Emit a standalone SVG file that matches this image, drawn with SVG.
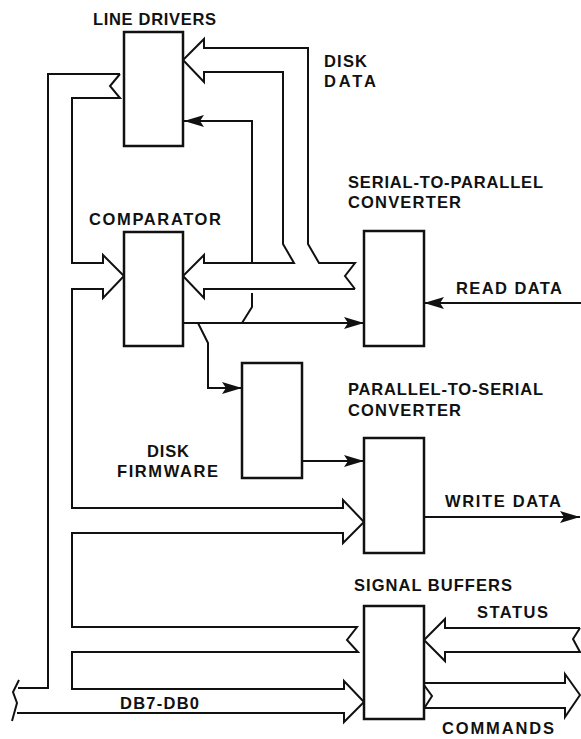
<svg xmlns="http://www.w3.org/2000/svg" width="581" height="739" viewBox="0 0 581 739">
  <style>
    .box { fill: #ffffff; stroke: #111111; stroke-width: 2.5; }
    .bus { fill: none; stroke: #111111; stroke-width: 2; stroke-linejoin: miter; }
    .ln { fill: none; stroke: #111111; stroke-width: 2; }
    .lbl { font-family: "Liberation Sans", Arial, Helvetica, sans-serif; font-weight: bold; font-size: 16.5px; fill: #111111; }
  </style>
  <defs>
    <marker id="ah" markerUnits="userSpaceOnUse" markerWidth="20" markerHeight="12" refX="20" refY="6" orient="auto">
      <path d="M0,0 L20,6 L0,12 L4,6 Z" fill="#111111"/>
    </marker>
  </defs>
  <rect width="581" height="739" fill="#ffffff"/>

  <g id="connectors">
    <!-- main DB7-DB0 bus -->
    <path class="bus" d="M120,74 L48,74 L48,688 L18,688"/>
    <path class="bus" d="M17,713 L344,713 L344,722 L364,702 L344,681 L344,689 L72,689 L72,652 L358,652 L347,640 L357,627 L72,627 L72,533 L343,533 L343,543 L364,522 L343,500 L343,508 L72,508 L72,289 L103,289 L103,298 L124,276 L103,255 L103,263 L72,263 L72,98 L120,98 L110,86 L120,74"/>
    <path class="ln" d="M19,680 L13,692 L17,703 L12,721"/>
    <!-- disk data bus from serial-to-parallel converter -->
    <path class="bus" d="M355,289 L204,289 L204,298 L183,276 L204,255 L204,263 L294,263 L283,244 L283,72 L204,72 L204,82 L183,60 L204,39 L204,48 L308,48 L308,244 L319,263 L355,263 L345,276 L355,289"/>
    <!-- comparator output -->
    <path class="ln" d="M183,323 L364,323" marker-end="url(#ah)"/>
    <path class="ln" d="M198,323 L208,343 L208,388 L242,388" marker-end="url(#ah)"/>
    <!-- feedback to line drivers -->
    <path class="ln" d="M242,323 L252,307 L252,293"/>
    <path class="ln" d="M252,262 L252,121 L184,121" marker-end="url(#ah)"/>
    <!-- read data -->
    <path class="ln" d="M581,303 L424,303" marker-end="url(#ah)"/>
    <!-- disk firmware to parallel-to-serial -->
    <path class="ln" d="M302,461 L364,461" marker-end="url(#ah)"/>
    <!-- write data -->
    <path class="ln" d="M424,517 L580,517" marker-end="url(#ah)"/>
    <!-- status bus -->
    <path class="bus" d="M580,628 L445,628 L445,619 L424,640 L445,661 L445,652 L580,652 L573,639 L580,628"/>
    <!-- commands bus -->
    <path class="bus" d="M424,683 L565,683 L565,674 L580,695 L565,717 L565,708 L425,708"/>
    <path class="ln" d="M424,685 L432,696 L425,707"/>
  </g>

  <g id="line-drivers">
    <rect class="box" x="124" y="32" width="59" height="114"/>
    <text class="lbl" x="93" y="25" textLength="123" lengthAdjust="spacing">LINE DRIVERS</text>
  </g>

  <g id="comparator">
    <rect class="box" x="124" y="232" width="59" height="114"/>
    <text class="lbl" x="89" y="225" textLength="132" lengthAdjust="spacing">COMPARATOR</text>
  </g>

  <g id="serial-to-parallel">
    <rect class="box" x="364" y="231" width="60" height="115"/>
    <text class="lbl" x="348" y="188" textLength="195" lengthAdjust="spacing">SERIAL-TO-PARALLEL</text>
    <text class="lbl" x="348" y="208" textLength="113" lengthAdjust="spacing">CONVERTER</text>
  </g>

  <g id="disk-firmware">
    <rect class="box" x="242" y="363" width="60" height="115"/>
    <text class="lbl" x="147" y="457" textLength="42" lengthAdjust="spacing">DISK</text>
    <text class="lbl" x="117" y="477" textLength="101" lengthAdjust="spacing">FIRMWARE</text>
  </g>

  <g id="parallel-to-serial">
    <rect class="box" x="364" y="438" width="60" height="115"/>
    <text class="lbl" x="348" y="395" textLength="195" lengthAdjust="spacing">PARALLEL-TO-SERIAL</text>
    <text class="lbl" x="348" y="416" textLength="113" lengthAdjust="spacing">CONVERTER</text>
  </g>

  <g id="signal-buffers">
    <rect class="box" x="364" y="606" width="60" height="113"/>
    <text class="lbl" x="354" y="591" textLength="158" lengthAdjust="spacing">SIGNAL BUFFERS</text>
  </g>

  <g id="labels">
    <text class="lbl" x="324" y="67" textLength="43" lengthAdjust="spacing">DISK</text>
    <text class="lbl" x="324" y="87" textLength="52" lengthAdjust="spacing">DATA</text>
    <text class="lbl" x="456" y="294" textLength="106" lengthAdjust="spacing">READ DATA</text>
    <text class="lbl" x="445" y="507" textLength="116" lengthAdjust="spacing">WRITE DATA</text>
    <text class="lbl" x="477" y="618" textLength="71" lengthAdjust="spacing">STATUS</text>
    <text class="lbl" x="120" y="709" textLength="79" lengthAdjust="spacing">DB7-DB0</text>
    <text class="lbl" x="442" y="734" textLength="112" lengthAdjust="spacing">COMMANDS</text>
  </g>
</svg>
